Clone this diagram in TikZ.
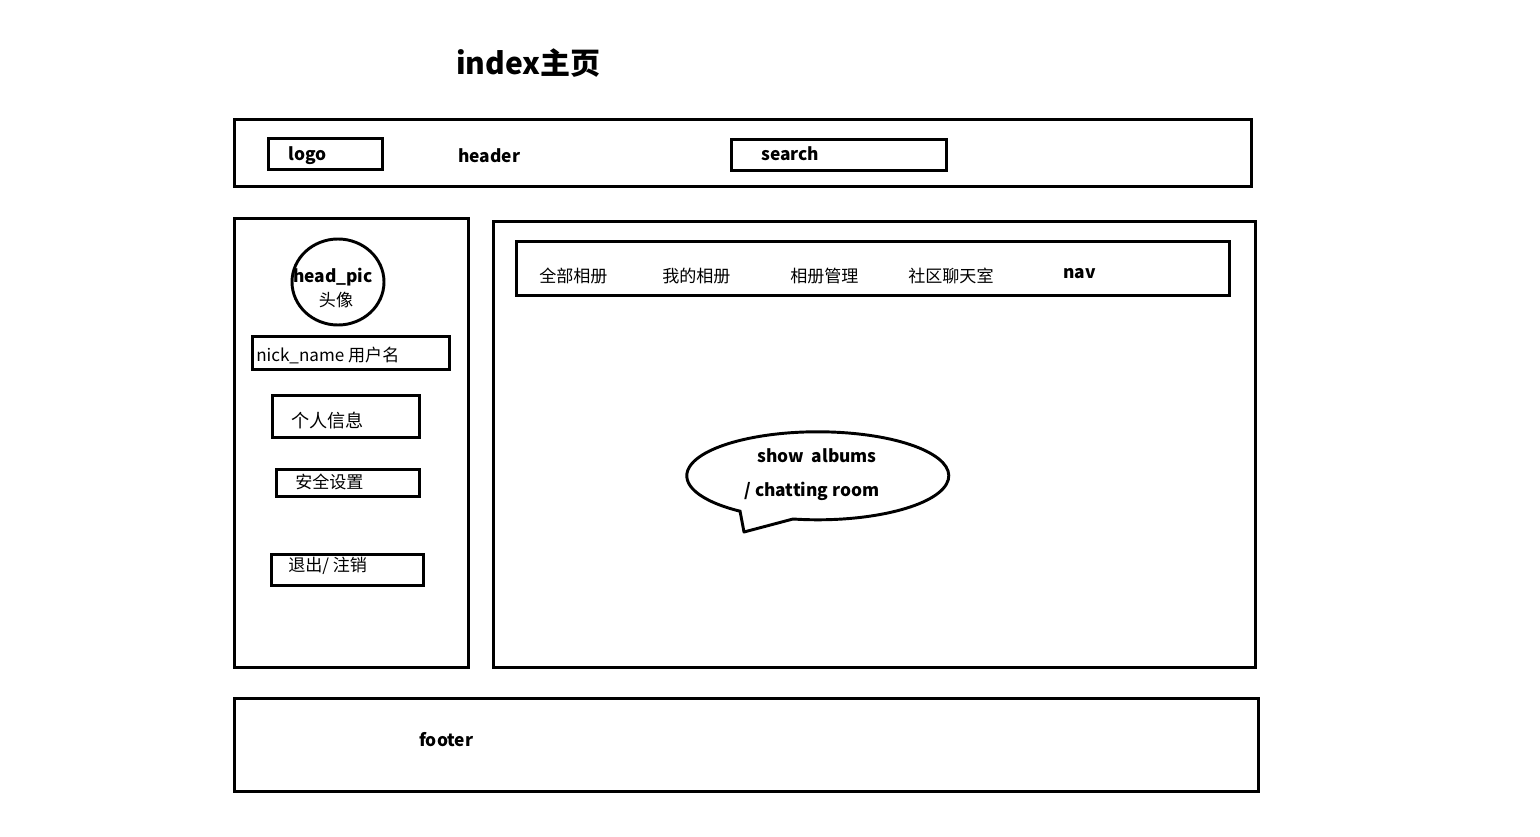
\documentclass[tikz,border=0pt]{standalone}
\usepackage{fontspec}
\usetikzlibrary{shapes.geometric}
\setmainfont{Noto Sans CJK SC}
\begin{document}
\begin{tikzpicture}[x=0.75pt,y=-0.75pt,
  frame/.style={draw,line width=2.2pt,inner sep=0pt,anchor=north west},
  lbl/.style={font=\fontsize{13pt}{15pt}\selectfont\bfseries,inner sep=0pt,anchor=west},
  txt/.style={font=\fontsize{12.8pt}{15pt}\selectfont,inner sep=0pt,anchor=west}]
\useasboundingbox (0,0) rectangle (1540,837);
\fill[white] (0,0) rectangle (1540,837);

% page title
\node[font=\fontsize{22.5pt}{26pt}\selectfont\bfseries,inner sep=0pt,anchor=west] (title) at (456,63) {index主页};

% header bar
\node[frame,minimum width=1017*0.75pt,minimum height=67*0.75pt] (headerbox) at (233,118) {};
\node[frame,minimum width=114*0.75pt,minimum height=31*0.75pt] (logobox) at (267,137) {};
\node[lbl] (logo) at (288,156) {logo};
\node[lbl] (header) at (458,156) {header};
\node[frame,minimum width=215*0.75pt,minimum height=31*0.75pt] (searchbox) at (730,138) {};
\node[lbl] (search) at (761,154) {search};

% left sidebar
\node[frame,minimum width=234*0.75pt,minimum height=449*0.75pt] (side) at (233,217) {};
\node[draw,line width=2.2pt,ellipse,minimum width=92*0.75pt,minimum height=86*0.75pt,inner sep=0pt] (headpic) at (338,282) {};
\node[lbl,anchor=center] (headlbl) at (333,277) {head\_pic};
\node[txt,anchor=center] (headcn) at (336,300) {头像};
\node[frame,minimum width=197*0.75pt,minimum height=33*0.75pt] (nickbox) at (251,335) {};
\node[txt] (nick) at (256,355) {nick\_name 用户名};
\node[frame,minimum width=147*0.75pt,minimum height=42*0.75pt] (infobox) at (271,394) {};
\node[txt,font=\fontsize{13.6pt}{15pt}\selectfont] (info) at (291,421) {个人信息};
\node[frame,minimum width=143*0.75pt,minimum height=27*0.75pt] (safebox) at (275,468) {};
\node[txt] (safe) at (295,482) {安全设置};
\node[frame,minimum width=152*0.75pt,minimum height=31*0.75pt] (exitbox) at (270,553) {};
\node[txt] (exit) at (288,566) {退出/ 注销};

% main content area
\node[frame,minimum width=762*0.75pt,minimum height=446*0.75pt] (main) at (492,220) {};
\node[frame,minimum width=713*0.75pt,minimum height=54*0.75pt] (navbox) at (515,240) {};
\node[txt] (nav1) at (539,276) {全部相册};
\node[txt] (nav2) at (662,276) {我的相册};
\node[txt] (nav3) at (790,276) {相册管理};
\node[txt] (nav4) at (908,276) {社区聊天室};
\node[lbl] (nav) at (1063,274) {nav};

% speech bubble
\coordinate (bubc) at (818,475);
\draw[line width=2.2pt,line join=round] (740,511) -- (744,532) -- (793,519)
  arc[start angle=100.9,end angle=-233.8,x radius=131,y radius=44] -- cycle;
\node[lbl,anchor=center] (show) at (817,456) {show\ \ albums};
\node[lbl,anchor=center] (chat) at (812,491) {/ chatting room};

% footer
\node[frame,minimum width=1024*0.75pt,minimum height=93*0.75pt] (footbox) at (233,697) {};
\node[lbl] (footer) at (419,740) {footer};
\end{tikzpicture}
\end{document}
